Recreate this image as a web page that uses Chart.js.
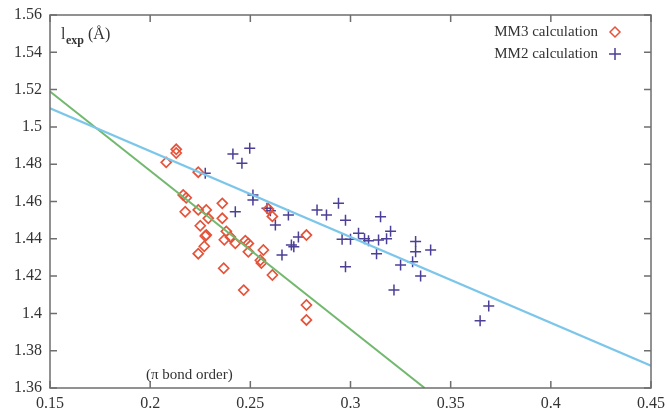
<!DOCTYPE html>
<html>
<head>
<meta charset="utf-8">
<script src="https://cdn.jsdelivr.net/npm/chart.js@4"></script>
<style>
  html, body { margin: 0; padding: 0; background: #fff; }
  #wrap { width: 667px; height: 412px; position: relative; }
</style>
</head>
<body>
<div id="wrap"><canvas id="bondChart"></canvas></div>
<script>
// pi bond order (x) vs experimental bond length (y)
const mm3X = [0.208, 0.213, 0.213, 0.2165, 0.218, 0.2175, 0.224, 0.224, 0.228, 0.225, 0.229, 0.236, 0.236, 0.228, 0.238, 0.2275, 0.227, 0.224, 0.237, 0.240, 0.2425, 0.2475, 0.249, 0.249, 0.2565, 0.2555, 0.261, 0.2367, 0.2467, 0.261, 0.259, 0.278, 0.278, 0.278, 0.255];
const mm3Y = [1.481, 1.488, 1.486, 1.4635, 1.462, 1.4545, 1.4757, 1.4555, 1.4555, 1.447, 1.451, 1.459, 1.451, 1.442, 1.444, 1.4415, 1.436, 1.432, 1.4395, 1.441, 1.4376, 1.439, 1.4375, 1.433, 1.434, 1.427, 1.4206, 1.4242, 1.4125, 1.452, 1.456, 1.442, 1.4045, 1.3965, 1.4285];

const mm2X = [0.2275, 0.2413, 0.2497, 0.2458, 0.2513, 0.2513, 0.2425, 0.2583, 0.26, 0.2625, 0.269, 0.2658, 0.2705, 0.2717, 0.274, 0.2833, 0.288, 0.294, 0.2975, 0.2958, 0.300, 0.304, 0.307, 0.309, 0.2975, 0.315, 0.314, 0.318, 0.313, 0.32, 0.3325, 0.3325, 0.340, 0.325, 0.331, 0.335, 0.3217, 0.369, 0.3647];
const mm2Y = [1.4751, 1.4855, 1.4885, 1.4805, 1.4635, 1.4608, 1.4545, 1.4564, 1.455, 1.4474, 1.4528, 1.4313, 1.4367, 1.4358, 1.441, 1.4555, 1.4528, 1.459, 1.45, 1.4397, 1.4397, 1.443, 1.44, 1.439, 1.425, 1.4518, 1.4394, 1.44, 1.432, 1.444, 1.4385, 1.433, 1.434, 1.426, 1.4277, 1.42, 1.4125, 1.404, 1.396];

// fitted lines (end points)
const blueFitX = [0.15, 0.45];
const blueFitY = [1.510, 1.372];
const greenFitX = [0.15, 0.337];
const greenFitY = [1.519, 1.36];

const xTicks = [0.15, 0.2, 0.25, 0.3, 0.35, 0.4, 0.45];
const yTicks = [1.36, 1.38, 1.4, 1.42, 1.44, 1.46, 1.48, 1.5, 1.52, 1.54, 1.56];

const legendLabels = ['MM3 calculation', 'MM2 calculation'];
const yTitle = ['l', 'exp', '(Å)'];
const xTitle = '(π bond order)';

const serif = '"Liberation Serif", "DejaVu Serif", serif';
const red = '#e5533a';
const purple = '#4b3f96';

function toPoints(xs, ys) {
    return xs.map((x, i) => ({ x: x, y: ys[i] }));
}

// frame, inward ticks, legend and in-plot titles (gnuplot look)
const framePlugin = {
    id: 'frame',
    afterDraw(chart) {
        const ctx = chart.ctx;
        const a = chart.chartArea;
        const xs = chart.scales.x;
        const ys = chart.scales.y;
        ctx.save();
        ctx.strokeStyle = '#6e6e6e';
        ctx.lineWidth = 1.5;
        ctx.strokeRect(a.left, a.top, a.right - a.left, a.bottom - a.top);
        ctx.beginPath();
        xTicks.forEach(v => {
            const px = xs.getPixelForValue(v);
            ctx.moveTo(px, a.bottom); ctx.lineTo(px, a.bottom - 7);
            ctx.moveTo(px, a.top); ctx.lineTo(px, a.top + 7);
        });
        yTicks.forEach(v => {
            const py = ys.getPixelForValue(v);
            ctx.moveTo(a.left, py); ctx.lineTo(a.left + 7, py);
            ctx.moveTo(a.right, py); ctx.lineTo(a.right - 7, py);
        });
        ctx.stroke();

        // y title inside top-left
        ctx.fillStyle = '#333';
        ctx.textBaseline = 'alphabetic';
        ctx.textAlign = 'left';
        ctx.font = '16px ' + serif;
        ctx.fillText(yTitle[0], a.left + 11, a.top + 24);
        ctx.font = 'bold 12px ' + serif;
        ctx.fillText(yTitle[1], a.left + 16, a.top + 29);
        ctx.font = '16px ' + serif;
        ctx.fillText(yTitle[2], a.left + 38, a.top + 24);

        // x title inside bottom-left
        ctx.font = '15px ' + serif;
        ctx.fillText(xTitle, a.left + 96, a.bottom - 9);

        // legend inside top-right
        ctx.textAlign = 'right';
        ctx.textBaseline = 'middle';
        ctx.font = '15px ' + serif;
        ctx.fillText(legendLabels[0], a.right - 53, a.top + 17);
        ctx.fillText(legendLabels[1], a.right - 53, a.top + 39);
        const mx = a.right - 36;
        ctx.lineWidth = 1.5;
        ctx.strokeStyle = red;
        ctx.beginPath();
        ctx.moveTo(mx, a.top + 12); ctx.lineTo(mx + 5, a.top + 17);
        ctx.lineTo(mx, a.top + 22); ctx.lineTo(mx - 5, a.top + 17);
        ctx.closePath();
        ctx.stroke();
        ctx.strokeStyle = purple;
        ctx.beginPath();
        ctx.moveTo(mx - 6, a.top + 39); ctx.lineTo(mx + 6, a.top + 39);
        ctx.moveTo(mx, a.top + 33); ctx.lineTo(mx, a.top + 45);
        ctx.stroke();
        ctx.restore();
    }
};

const ctx = document.getElementById('bondChart').getContext('2d');
new Chart(ctx, {
    type: 'scatter',
    data: {
        datasets: [
            {
                label: 'fit MM2',
                type: 'line',
                data: toPoints(blueFitX, blueFitY),
                borderColor: '#7cc6ea',
                borderWidth: 2.2,
                pointRadius: 0,
                fill: false
            },
            {
                label: 'fit MM3',
                type: 'line',
                data: toPoints(greenFitX, greenFitY),
                borderColor: '#72b86e',
                borderWidth: 2,
                pointRadius: 0,
                fill: false
            },
            {
                label: legendLabels[0],
                data: toPoints(mm3X, mm3Y),
                pointStyle: 'rectRot',
                pointRadius: 5,
                borderColor: red,
                backgroundColor: 'rgba(255,255,255,0)',
                borderWidth: 1.7
            },
            {
                label: legendLabels[1],
                data: toPoints(mm2X, mm2Y),
                pointStyle: 'cross',
                pointRadius: 5.5,
                borderColor: purple,
                borderWidth: 1.5
            }
        ]
    },
    options: {
        responsive: true,
        maintainAspectRatio: false,
        animation: false,
        layout: { padding: { top: 15, right: 16, left: 0, bottom: 0 } },
        plugins: {
            legend: { display: false },
            tooltip: { enabled: false }
        },
        scales: {
            x: {
                type: 'linear',
                min: 0.15,
                max: 0.45,
                afterFit: s => { s.height = 24; s.paddingLeft = 0; s.paddingRight = 0; },
                afterBuildTicks: s => { s.ticks = xTicks.map(v => ({ value: v })); },
                grid: { display: false, drawTicks: false },
                border: { display: false },
                ticks: {
                    padding: 6,
                    maxRotation: 0,
                    color: '#333',
                    font: { family: serif, size: 16 },
                    callback: v => String(Number(v.toFixed(2)))
                }
            },
            y: {
                type: 'linear',
                min: 1.36,
                max: 1.56,
                afterFit: s => { s.width = 50; s.paddingTop = 0; s.paddingBottom = 0; },
                afterBuildTicks: s => { s.ticks = yTicks.map(v => ({ value: v })); },
                grid: { display: false, drawTicks: false },
                border: { display: false },
                ticks: {
                    padding: 8,
                    color: '#333',
                    font: { family: serif, size: 16 },
                    callback: v => String(Number(v.toFixed(2)))
                }
            }
        }
    },
    plugins: [framePlugin]
});
</script>
</body>
</html>
